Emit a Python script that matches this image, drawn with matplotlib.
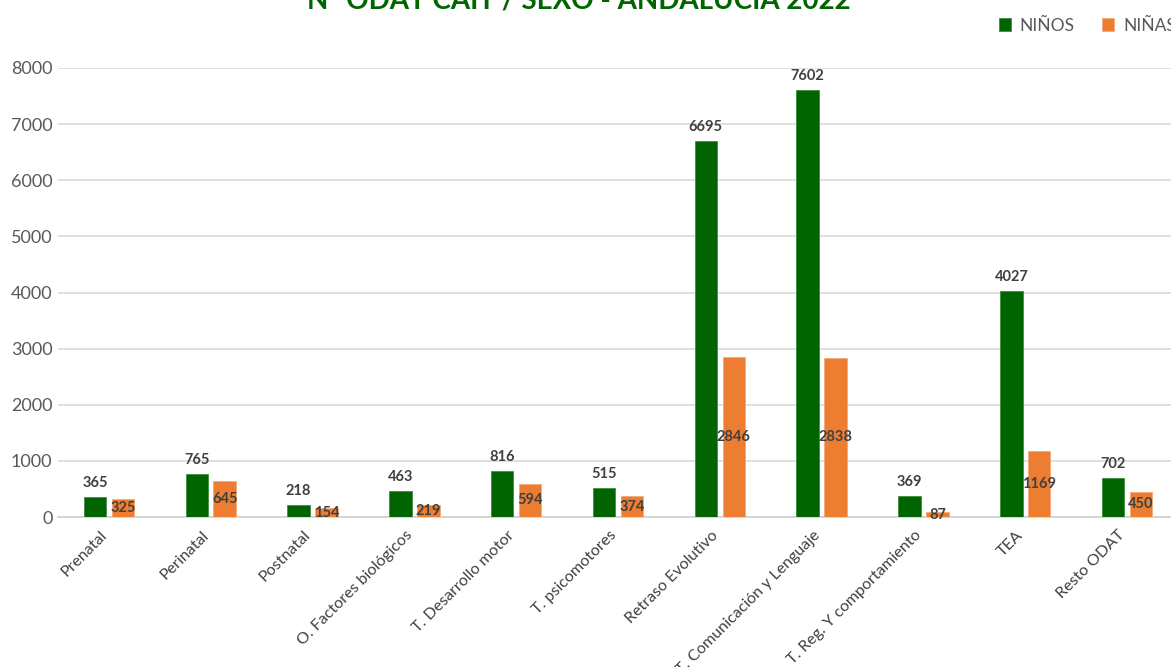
import matplotlib.pyplot as plt
import numpy as np

plt.rcParams['font.family'] = ['Lato', 'DejaVu Sans']

categorias = ['Prenatal', 'Perinatal', 'Postnatal', 'O. Factores biológicos',
              'T. Desarrollo motor', 'T. psicomotores', 'Retraso Evolutivo',
              'T. Comunicación y Lenguaje', 'T. Reg. Y comportamiento', 'TEA',
              'Resto ODAT']
ninos = [365, 765, 218, 463, 816, 515, 6695, 7602, 369, 4027, 702]
ninas = [325, 645, 154, 219, 594, 374, 2846, 2838, 87, 1169, 450]

verde = '#006400'
naranja = '#ED7D31'
gris_texto = '#404040'

fig = plt.figure(figsize=(11.71, 6.67), dpi=100)
ax = fig.add_axes([58 / 1171, 1 - 517 / 667, 1120 / 1171, 449 / 667])

x = np.arange(len(categorias))
ancho = 0.22
off = 0.137

b1 = ax.bar(x - off, ninos, ancho, color=verde, edgecolor='#3f8f3f', linewidth=0.6,
            label='NIÑOS', zorder=3)
b2 = ax.bar(x + off, ninas, ancho, color=naranja, edgecolor='#f4a878', linewidth=0.6,
            label='NIÑAS', zorder=3)

# niños: etiqueta encima de la barra; niñas: centrada dentro
for r, v in zip(b1, ninos):
    ax.annotate(str(v), (r.get_x() + r.get_width() / 2, v), xytext=(0, 5),
                textcoords='offset points', ha='center', va='bottom',
                fontsize=10.5, fontweight='bold', color=gris_texto, zorder=4)
for r, v in zip(b2, ninas):
    ax.text(r.get_x() + r.get_width() / 2, v / 2, str(v), ha='center', va='center',
            fontsize=10.5, fontweight='bold', color=gris_texto, zorder=4)

ax.set_xlim(-0.5, len(categorias) - 0.5)
ax.set_ylim(0, 8000)
ax.set_yticks(range(0, 8001, 1000))
ax.tick_params(axis='y', length=0, labelsize=13, labelcolor='#595959', pad=4)
ax.tick_params(axis='x', length=0, pad=8)
ax.set_xticks(x - 0.09)
ax.set_xticklabels(categorias, rotation=45, ha='right', rotation_mode='anchor',
                   fontsize=11.5, color=gris_texto)

ax.grid(axis='y', color='#d9d9d9', linewidth=1.2, zorder=0)
for s in ['top', 'right', 'left']:
    ax.spines[s].set_visible(False)
ax.spines['bottom'].set_color('#d0d0d0')
ax.spines['bottom'].set_linewidth(1.2)

fig.text(0.494, 1 - 8 / 667, 'Nº ODAT CAIT / SEXO - ANDALUCÍA 2022', ha='center',
         va='baseline', fontsize=20, fontweight='bold', color=verde)

fig.legend(handles=[b1, b2], loc='upper left', bbox_to_anchor=(983 / 1171, 1 - 2 / 667),
           ncol=2, frameon=False, fontsize=12.5, labelcolor='#595959',
           handlelength=0.7, handleheight=0.7, handletextpad=0.5, columnspacing=1.6)

fig.savefig('out.png', dpi=100)
